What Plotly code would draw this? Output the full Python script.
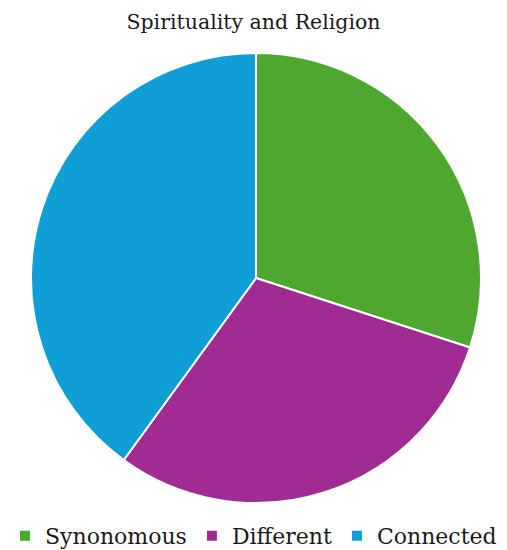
import plotly.graph_objects as go

categories = ["Synonomous", "Different", "Connected"]
values = [30, 30, 40]
colors = ["#4EA72E", "#A02B93", "#0F9ED5"]

fig = go.Figure(go.Pie(
    labels=categories,
    values=values,
    sort=False,
    direction="clockwise",
    rotation=0,
    textinfo="none",
    hoverinfo="label+percent",
    marker=dict(colors=colors, line=dict(color="white", width=2)),
    domain=dict(x=[31/507, 481/507], y=[1-503/550, 1-53/550]),
))

fig.update_layout(
    width=507, height=550,
    margin=dict(l=0, r=0, t=0, b=0, autoexpand=False),
    paper_bgcolor="white",
    title=dict(text="Spirituality and Religion", x=0.5, xanchor="center",
               y=1-22/550, yanchor="middle",
               font=dict(family="DejaVu Serif", size=20.5, color="#1a1a1a")),
    legend=dict(orientation="h", x=0.5, xanchor="center", y=-7/550, yanchor="bottom",
                font=dict(family="DejaVu Serif", size=22, color="#1a1a1a"),
                itemwidth=30, tracegroupgap=0),
    showlegend=True,
)

fig.write_html("out.html", config={"displayModeBar": False},
               post_script="document.body.style.margin='0';")
